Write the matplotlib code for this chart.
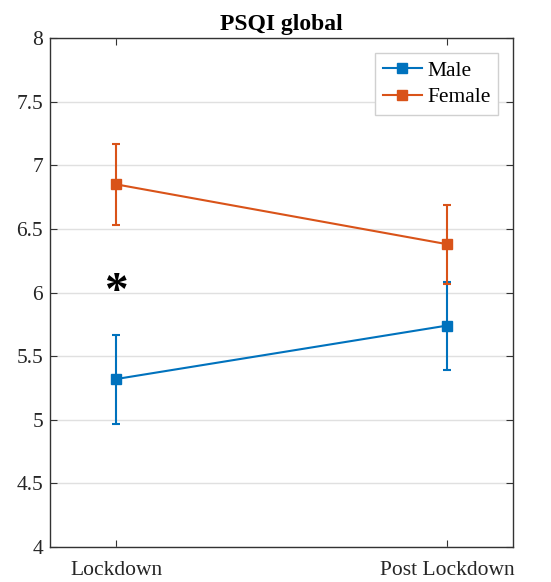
import matplotlib.pyplot as plt
from matplotlib.lines import Line2D

# data
periods = ['Lockdown', 'Post Lockdown']
male_mean = [5.32, 5.74]
male_err = [0.35, 0.345]
female_mean = [6.85, 6.38]
female_err = [0.32, 0.31]
star_y = 6.0

plt.rcParams['font.family'] = ['Liberation Serif', 'DejaVu Serif']

fig = plt.figure(figsize=(5.51, 5.82), dpi=100)
ax = fig.add_axes([0.0907, 0.0601, 0.8403, 0.8746])

x = [1, 2]
blue = (0, 0.447, 0.741)
orange = (0.85, 0.325, 0.098)
ax.errorbar(x, male_mean, yerr=male_err, color=blue, marker='s', markersize=7,
            linewidth=1.5, capsize=3, capthick=1.5, zorder=3)
ax.errorbar(x, female_mean, yerr=female_err, color=orange, marker='s', markersize=7,
            linewidth=1.5, capsize=3, capthick=1.5, zorder=3)

ax.text(1, star_y, '*', ha='center', va='center', fontsize=34, fontweight='bold')

ax.set_xlim(0.8, 2.2)
ax.set_ylim(4, 8)
ax.set_xticks(x)
ax.set_xticklabels(periods)
ax.set_yticks([4, 4.5, 5, 5.5, 6, 6.5, 7, 7.5, 8])
ax.set_yticklabels(['4', '4.5', '5', '5.5', '6', '6.5', '7', '7.5', '8'])
ax.tick_params(direction='in', top=True, right=True, labelsize=15.5, length=5,
               color='#333333', labelcolor='#262626', pad=5)
ax.tick_params(axis='x', pad=10)
ax.yaxis.grid(True, color='#e0e0e0', linewidth=1)
ax.set_axisbelow(True)
for s in ax.spines.values():
    s.set_color('#333333')
    s.set_linewidth(1.0)

ax.set_title('PSQI global', fontsize=17, fontweight='bold', pad=6)
handles = [Line2D([], [], color=blue, marker='s', markersize=7, linewidth=1.5),
           Line2D([], [], color=orange, marker='s', markersize=7, linewidth=1.5)]
leg = ax.legend(handles, ['Male', 'Female'], loc='upper right', fontsize=15.5,
                fancybox=False, framealpha=1, edgecolor='#d0d0d0',
                borderaxespad=0.7, borderpad=0.35, handlelength=1.8,
                handletextpad=0.25, labelspacing=0.3)

fig.savefig('out.png', dpi=100)
